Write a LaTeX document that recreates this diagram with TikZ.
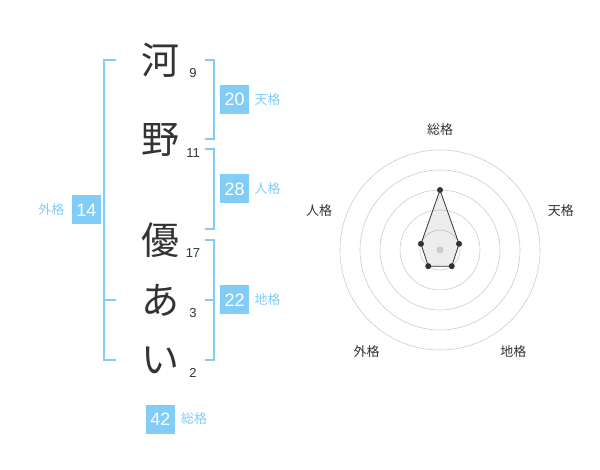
\documentclass[tikz,border=0pt]{standalone}
\usepackage{fontspec}
\setmainfont{Liberation Sans}
\newfontfamily\jpfont{Noto Sans CJK JP}
\usetikzlibrary{positioning}
\definecolor{kakublue}{HTML}{82CCF8}
\definecolor{inkgray}{HTML}{333333}
\definecolor{ringgray}{HTML}{CCCCCC}
\tikzset{
    kanji/.style={font=\jpfont\fontsize{38}{38}\selectfont, text=inkgray, inner sep=0pt}, % 名前の文字
    strokes/.style={font=\fontsize{13}{13}\selectfont, text=inkgray, inner sep=0pt}, % 画数
    numbox/.style={fill=kakublue, text=white, minimum size=29pt, inner sep=0pt, font=\fontsize{18}{18}\selectfont},
    kakulabel/.style={font=\jpfont\fontsize{13}{13}\selectfont, text=kakublue, inner sep=0pt},
    bracket/.style={draw=kakublue, line width=2pt},
    dot/.style={circle, fill=inkgray, inner sep=0pt, minimum size=6pt},
    axislabel/.style={font=\jpfont\fontsize{13}{13}\selectfont, text=inkgray, inner sep=0pt}
}
\begin{document}
\begin{tikzpicture}[x=1pt, y=-1pt]
    \useasboundingbox (0,0) rectangle (600,470);

    % 名前と画数
    \foreach \ch/\y/\n/\name in {河/60/9/c1, 野/140/11/c2, 優/240/17/c3, あ/300/3/c4, い/360/2/c5} {
        \node[kanji] (\name) at (160,\y) {\ch};
        \node[strokes] (\name-n) at (193,\y+13) {\n};
    }

    % 括弧
    \draw[bracket] (116,60) -- (104,60) -- (104,360) -- (116,360);
    \draw[bracket] (104,300) -- (116,300);
    \draw[bracket] (205,60) -- (214,60) -- (214,139) -- (205,139);
    \draw[bracket] (205,149) -- (214,149) -- (214,229) -- (205,229);
    \draw[bracket] (205,240) -- (214,240) -- (214,360) -- (205,360);
    \draw[bracket] (205,300) -- (214,300);

    \coordinate (ten) at (214,99.5);
    \coordinate (jin) at (214,189);
    \coordinate (chi) at (214,300);
    \coordinate (gai) at (104,210);

    \node[numbox, right=6pt of ten] (b-ten) {20};
    \node[kakulabel, right=5pt of b-ten] (l-ten) {\jpfont 天格};
    \node[numbox, right=6pt of jin] (b-jin) {28};
    \node[kakulabel, right=5pt of b-jin] (l-jin) {人格};
    \node[numbox, right=6pt of chi] (b-chi) {22};
    \node[kakulabel, right=5pt of b-chi] (l-chi) {地格};
    \node[numbox, left=3pt of gai] (b-gai) {14};
    \node[kakulabel, left=7pt of b-gai] (l-gai) {外格};
    \node[numbox] (b-sou) at (160.3,419) {42};
    \node[kakulabel, right=6pt of b-sou] (l-sou) {総格};

    % レーダーチャート
    \begin{scope}[shift={(440,250)}, yscale=-1]
        \foreach \r in {20,40,...,100} {\draw[ringgray, line width=0.6pt] (0,0) circle (\r);}
        \node[dot] (s-sou) at (90:60) {};
        \node[dot] (s-ten) at (18:20) {};
        \node[dot] (s-chi) at (-54:20) {};
        \node[dot] (s-gai) at (-126:20) {};
        \node[dot] (s-jin) at (162:20) {};
        \filldraw[fill=black, fill opacity=0.07, draw=inkgray, line width=0.8pt]
            (s-sou.center) -- (s-ten.center) -- (s-chi.center) -- (s-gai.center) -- (s-jin.center) -- cycle;
        \node[circle, fill=ringgray, inner sep=0pt, minimum size=7pt] (mid) at (0,0) {};

        \node[axislabel] (a-sou) at (90:120) {総格};
        \node[axislabel] (a-ten) at (18:127) {天格};
        \node[axislabel] (a-chi) at (-54:125) {地格};
        \node[axislabel] (a-gai) at (-126:125) {外格};
        \node[axislabel] (a-jin) at (162:127) {人格};
    \end{scope}
\end{tikzpicture}
\end{document}
